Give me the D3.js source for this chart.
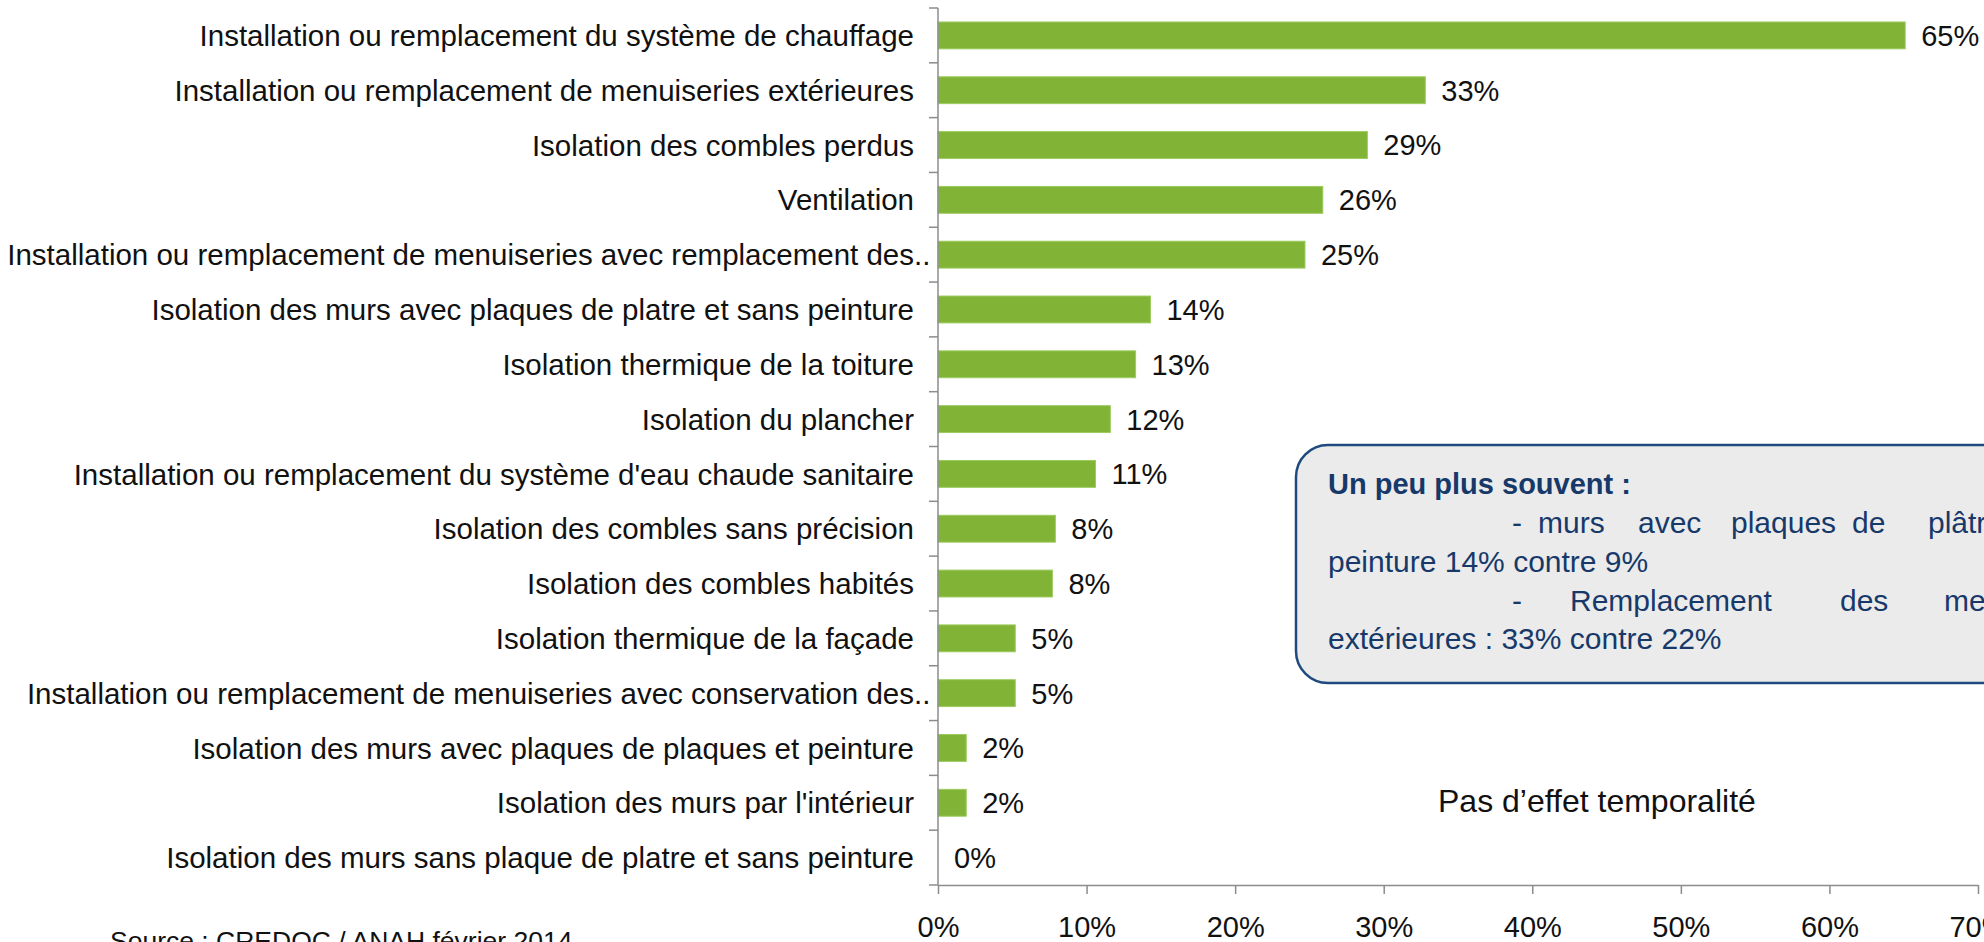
<!DOCTYPE html>
<html><head><meta charset="utf-8">
<script src="https://cdn.jsdelivr.net/npm/d3@7"></script>
<style>
html,body{margin:0;padding:0;background:#fff;overflow:hidden;}
text{font-family:"Liberation Sans",Arial,Helvetica,sans-serif;}
</style></head>
<body><svg id="chart" width="1984" height="942"></svg>
<script>
const categories = [
  "Installation ou remplacement du système de chauffage",
  "Installation ou remplacement de menuiseries extérieures",
  "Isolation des combles perdus",
  "Ventilation",
  "Installation ou remplacement de menuiseries avec remplacement des..",
  "Isolation des murs avec plaques de platre et sans peinture",
  "Isolation thermique de la toiture",
  "Isolation du plancher",
  "Installation ou remplacement du système d'eau chaude sanitaire",
  "Isolation des combles sans précision",
  "Isolation des combles habités",
  "Isolation thermique de la façade",
  "Installation ou remplacement de menuiseries avec conservation des..",
  "Isolation des murs avec plaques de plaques et peinture",
  "Isolation des murs par l'intérieur",
  "Isolation des murs sans plaque de platre et sans peinture"
];
const values = [65.1, 32.8, 28.9, 25.9, 24.7, 14.3, 13.3, 11.6, 10.6, 7.9, 7.7, 5.2, 5.2, 1.9, 1.9, 0];
const xTicks = [0, 10, 20, 30, 40, 50, 60, 70];

const noteTitle = "Un peu plus souvent :";
const noteLines = [
  [["-",1512],["murs",1538],["avec",1638],["plaques",1731],["de",1852],["plâtre",1928],["et",2030],["sans",2080]],
  [["peinture 14% contre 9%",1328]],
  [["-",1512],["Remplacement",1570],["des",1840],["menuiseries",1944]],
  [["extérieures : 33% contre 22%",1328]]
];
const sideNote = "Pas d’effet temporalité";
const source = "Source : CREDOC / ANAH février 2014";

const svg = d3.select("#chart");
const axisColor = "#8c8c8c";
const green = "#80b336";
const fs = 29.5;

const x = d3.scaleLinear().domain([0, 70]).range([938, 1978]);
const y = d3.scaleBand().domain(categories).range([8, 885]).paddingInner(0.51).paddingOuter(0.255);

// bars
svg.append("g").selectAll("rect").data(categories).join("rect")
  .attr("x", x(0))
  .attr("y", d => y(d))
  .attr("width", (d, i) => x(values[i]) - x(0))
  .attr("height", y.bandwidth())
  .attr("fill", green)
  .attr("stroke", (d, i) => values[i] > 0 ? "#9ccb5e" : "none")
  .attr("stroke-width", 1);

// value labels
svg.append("g").selectAll("text").data(categories).join("text")
  .attr("x", (d, i) => x(values[i]) + 16)
  .attr("y", d => y(d) + y.bandwidth() / 2)
  .attr("dy", "0.36em")
  .attr("font-size", 29)
  .attr("fill", "#111")
  .text((d, i) => Math.round(values[i]) + "%");

// category labels (truncated ".." suffix hangs past the label edge)
const probe = svg.append("text").attr("font-size", fs).text("..");
const dotsW = probe.node().getComputedTextLength();
probe.remove();
const labelEnd = x(0) - 24;
svg.append("g").selectAll("text").data(categories).join("text")
  .attr("x", d => d.endsWith("..") ? labelEnd + dotsW : labelEnd)
  .attr("y", d => y(d) + y.bandwidth() / 2)
  .attr("dy", "0.36em")
  .attr("text-anchor", "end")
  .attr("font-size", fs)
  .attr("fill", "#111")
  .text(d => d);

// left axis: domain line + boundary ticks
const step = y.step();
const top0 = y(categories[0]) - step * y.paddingInner() / 2;
const bounds = d3.range(categories.length + 1).map(i => top0 + i * step);
const gl = svg.append("g");
gl.append("line").attr("x1", x(0)).attr("x2", x(0)).attr("y1", bounds[0]).attr("y2", bounds[bounds.length - 1])
  .attr("stroke", axisColor).attr("stroke-width", 1.5);
gl.selectAll("line.t").data(bounds).join("line").attr("class", "t")
  .attr("x1", x(0) - 9).attr("x2", x(0)).attr("y1", d => d).attr("y2", d => d)
  .attr("stroke", axisColor).attr("stroke-width", 1.5);

// bottom axis
const gb = svg.append("g").attr("transform", `translate(0,${bounds[bounds.length - 1]})`)
  .call(d3.axisBottom(x).tickValues(xTicks).tickFormat(d => d + "%").tickSize(9).tickSizeOuter(0).tickPadding(22));
gb.select(".domain").attr("stroke", axisColor).attr("stroke-width", 1.5);
gb.selectAll(".tick line").attr("stroke", axisColor).attr("stroke-width", 1.5);
gb.selectAll(".tick text").attr("font-size", 29).attr("fill", "#111")
  .attr("font-family", "'Liberation Sans', Arial, sans-serif");

// annotation box
const box = svg.append("g");
box.append("rect").attr("x", 1296).attr("y", 445).attr("width", 800).attr("height", 238).attr("rx", 32)
  .attr("fill", "#ebebeb").attr("stroke", "#1f4a7e").attr("stroke-width", 2.5);
box.append("text").attr("x", 1328).attr("y", 494).attr("font-size", 29).attr("font-weight", "bold")
  .attr("fill", "#17396a").text(noteTitle);
const lineY = [533, 572, 611, 649];
noteLines.forEach((words, li) => {
  words.forEach(([w, wx]) => {
    box.append("text").attr("x", wx).attr("y", lineY[li]).attr("font-size", 30)
      .attr("fill", "#17396a").text(w);
  });
});

// side note
svg.append("text").attr("x", 1438).attr("y", 812).attr("font-size", 32).attr("fill", "#111").text(sideNote);

// source
svg.append("text").attr("x", 110).attr("y", 950).attr("font-size", 26.5).attr("fill", "#111").text(source);
</script>
</body></html>
